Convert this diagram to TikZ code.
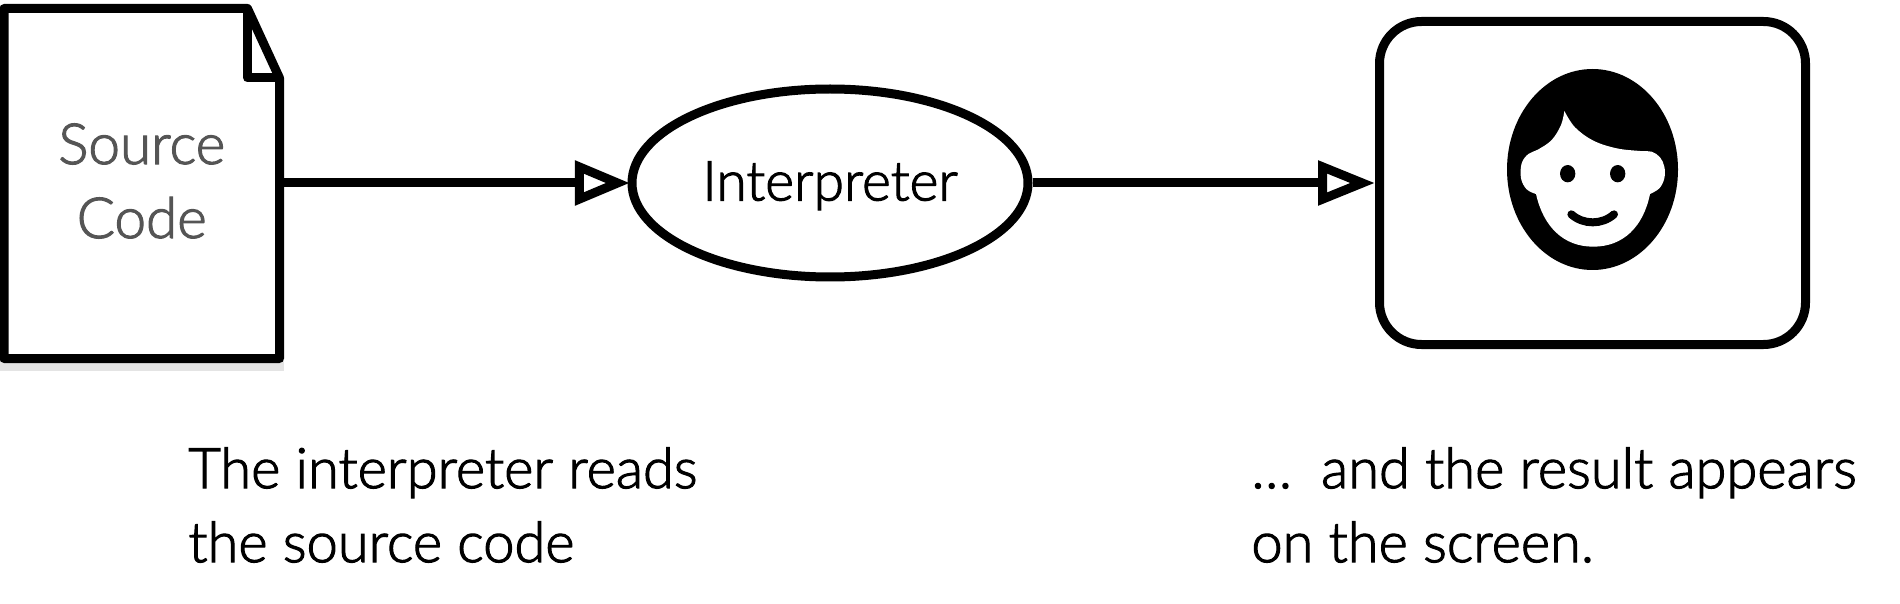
\documentclass[tikz,border=0pt]{standalone}
\usepackage{fontspec}
\usetikzlibrary{arrows.meta,shapes.geometric,calc}
\setmainfont[FakeBold=0.35]{Lato Light}
\newfontfamily\lightfont[FakeBold=2]{Lato Light}
\definecolor{doctext}{HTML}{555555}
\definecolor{docshadow}{HTML}{E4E4E4}
\tikzset{
  outline/.style={draw=black,line width=4.5pt},
  flow/.style={line width=4.5pt},
  caption/.style={font=\lightfont\fontsize{28}{37}\selectfont,align=left,inner sep=0pt,text=black,anchor=west},
  boxtext/.style={font=\lightfont\fontsize{28.3}{37}\selectfont,align=center,inner sep=0pt},
}
\begin{document}
\begin{tikzpicture}[x=0.5pt,y=-0.5pt]
\useasboundingbox (0,0) rectangle (1900,604);
% document
\fill[docshadow] (0,360) rectangle (283.5,371);
\node[boxtext,text=doctext,minimum width=137.75pt,minimum height=175pt,outer sep=0pt] (doc) at (141.75,181) {Source\\Code};
\coordinate (docnw) at (4,8.5);
\coordinate (docsw) at (4,358.5);
\coordinate (docse) at (279.5,358.5);
\coordinate (foldtop) at (247.5,8.5);
\coordinate (foldin) at (247.5,78);
\coordinate (foldout) at (279.5,78);
\draw[outline,line join=round] (docnw) -- (foldtop) -- (foldout) -- (docse) -- (docsw) -- cycle;
\draw[outline,line join=round] (foldtop) -- (foldin) -- (foldout);
% interpreter
\node[outline,ellipse,boxtext,font=\lightfont\fontsize{27.6}{37}\selectfont,minimum width=198pt,minimum height=94pt] (interp) at (830,183) {\raisebox{-1.4pt}[\height][\depth]{Interpreter}};
% screen
\node[outline,rectangle,rounded corners=21pt,minimum width=213pt,minimum height=161.5pt] (screen) at (1592.5,183) {};
% connectors
\draw[flow,shorten >=-1.2pt,-{Triangle[open,length=27.5pt,width=21.5pt,fill=white]}] (doc.east |- interp.west) -- (interp.west);
\draw[flow,-{Triangle[open,length=28.5pt,width=21.5pt,fill=white]}] (interp.east) -- (screen.west);
% face
\fill (1592.5,169.5) ellipse [x radius=85.5,y radius=100.5];
\begin{scope}[shift={(1480,50)},x=0.16667pt,y=-0.16667pt]
\fill[white] plot[smooth,tension=.6] coordinates {(253,183)(285,232)(340,272)(410,295)(480,303)(515,305)(540,322)(553,350)(553,385)(538,415)(510,432)}
  .. controls (490,530) and (430,590) .. (340,590) .. controls (250,590) and (190,530) .. (168,432)
  -- plot[smooth,tension=.6] coordinates {(168,432)(140,418)(123,385)(125,340)(145,312)(175,298)(215,270)(243,225)(253,183)} -- cycle;
\fill (263,371) ellipse [x radius=23,y radius=26];
\fill (413,371) ellipse [x radius=23,y radius=26];
\draw[line width=4pt,line cap=round] (274,493) .. controls (310,525) and (366,525) .. (402,493);
\end{scope}
% captions
\node[caption] (cap1) at (188,505) {The interpreter reads\\the source code};
\node[caption] (cap2) at (1251,505) {\dots\hspace{7pt} and the result appears\\on the screen.};
\end{tikzpicture}
\end{document}
